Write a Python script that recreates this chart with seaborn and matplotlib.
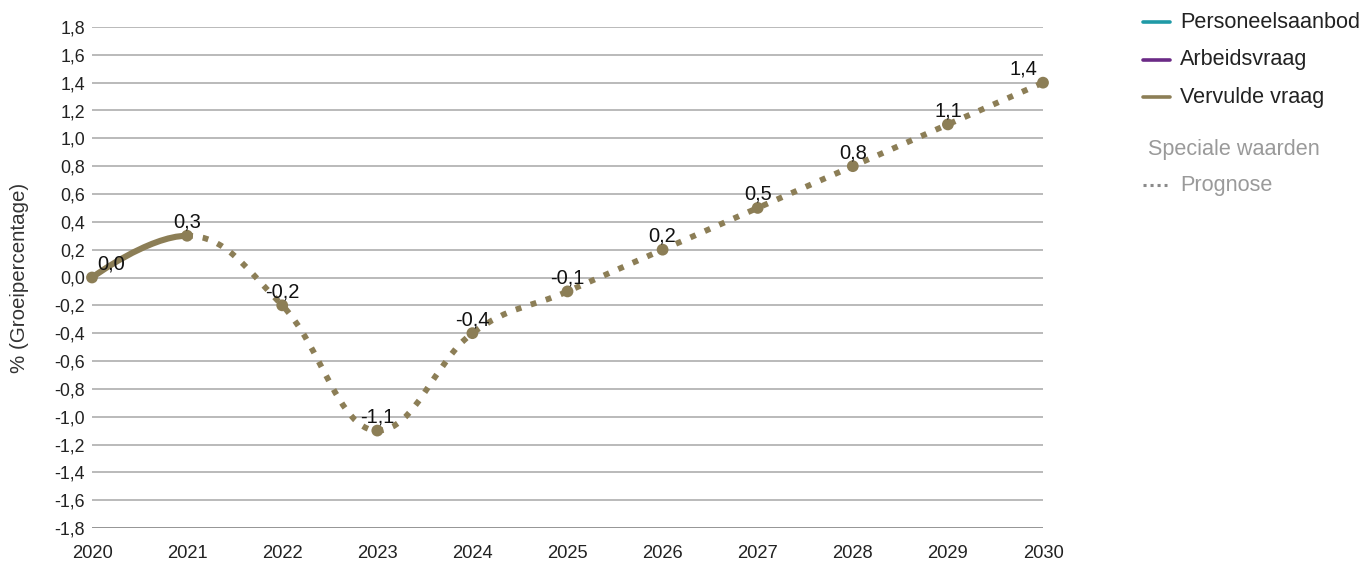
import numpy as np
import pandas as pd
import seaborn as sns
import matplotlib.pyplot as plt
from matplotlib.path import Path
from matplotlib.patches import PathPatch
from matplotlib.lines import Line2D

# data
years = [2020, 2021, 2022, 2023, 2024, 2025, 2026, 2027, 2028, 2029, 2030]
vervulde_vraag = [0.0, 0.3, -0.2, -1.1, -0.4, -0.1, 0.2, 0.5, 0.8, 1.1, 1.4]
last_actual_year = 2021
y_ticks = [-1.8, -1.6, -1.4, -1.2, -1.0, -0.8, -0.6, -0.4, -0.2, 0.0,
           0.2, 0.4, 0.6, 0.8, 1.0, 1.2, 1.4, 1.6, 1.8]
series_names = ["Personeelsaanbod", "Arbeidsvraag", "Vervulde vraag"]
series_colors = ["#1f9aa6", "#6b2a86", "#8c7e56"]

OLIVE = "#8c7e56"
W, H = 1366, 565

sns.set_theme(style="white")
plt.rcParams["font.family"] = ["Liberation Sans", "DejaVu Sans"]


def spline_controls(xs, ys, smoothing=1.5):
    r"""Bezier control points for a smooth spline through the points."""
    n = len(xs)
    left = [(xs[0], ys[0])] * n
    right = [(xs[-1], ys[-1])] * n
    right[0] = (xs[0], ys[0])
    for i in range(1, n - 1):
        px, py = xs[i], ys[i]
        lx, ly = xs[i - 1], ys[i - 1]
        nx, ny = xs[i + 1], ys[i + 1]
        d = smoothing + 1
        lcx, lcy = (smoothing * px + lx) / d, (smoothing * py + ly) / d
        rcx, rcy = (smoothing * px + nx) / d, (smoothing * py + ny) / d
        if rcx != lcx:
            corr = ((rcy - lcy) * (rcx - px)) / (rcx - lcx) + py - rcy
            lcy += corr
            rcy += corr
        if lcy > ly and lcy > py:
            lcy = max(ly, py)
            rcy = 2 * py - lcy
        elif lcy < ly and lcy < py:
            lcy = min(ly, py)
            rcy = 2 * py - lcy
        if rcy > ny and rcy > py:
            rcy = max(ny, py)
            lcy = 2 * py - rcy
        elif rcy < ny and rcy < py:
            rcy = min(ny, py)
            lcy = 2 * py - rcy
        left[i] = (lcx, lcy)
        right[i] = (rcx, rcy)
    left[-1] = (xs[-1], ys[-1])
    return left, right


def curve_path(xs, ys, left, right, i0, i1):
    verts = [(xs[i0], ys[i0])]
    codes = [Path.MOVETO]
    for i in range(i0 + 1, i1 + 1):
        verts += [right[i - 1], left[i], (xs[i], ys[i])]
        codes += [Path.CURVE4] * 3
    return Path(verts, codes)


df = pd.DataFrame({"jaar": years, "waarde": vervulde_vraag})

fig = plt.figure(figsize=(W / 100, H / 100), dpi=100)
ax = fig.add_axes([92 / W, 37 / H, (1043 - 92) / W, (528 - 27) / H])

sns.scatterplot(data=df, x="jaar", y="waarde", ax=ax, color=OLIVE, s=72,
                edgecolor="none", zorder=4, clip_on=False, legend=False)

ax.set_xlim(years[0], years[-1])
ax.set_ylim(y_ticks[0], y_ticks[-1])
ax.set_yticks(y_ticks)
ax.set_yticklabels([f"{v:.1f}".replace(".", ",") for v in y_ticks])
ax.set_xticks(years)
ax.set_xticklabels([str(y) for y in years])
for v in y_ticks:
    ax.axhline(v, color="#b4b4b4" if v != y_ticks[0] else "#8c8c8c", lw=1.3, zorder=0)
for s in ax.spines.values():
    s.set_visible(False)
ax.tick_params(axis="both", length=0, labelsize=12.8, colors="#222222")
ax.tick_params(axis="y", pad=5)
ax.tick_params(axis="x", pad=12.5, labelsize=13.2)
ax.set_xlabel("")
ax.set_ylabel("% (Groeipercentage)", fontsize=14.8, color="#333333")
ax.yaxis.set_label_coords((29 - 92) / (1043 - 92), 0.5)

left, right = spline_controls(years, vervulde_vraag)
split = years.index(last_actual_year)
solid = PathPatch(curve_path(years, vervulde_vraag, left, right, 0, split),
                  fill=False, edgecolor=OLIVE, lw=4.4, capstyle="round", zorder=3, clip_on=False)
dotted = PathPatch(curve_path(years, vervulde_vraag, left, right, split, len(years) - 1),
                   fill=False, edgecolor=OLIVE, lw=4.2, linestyle=(0, (1.0, 1.7)),
                   zorder=3, clip_on=False)
ax.add_patch(solid)
ax.add_patch(dotted)

for i, (x, y) in enumerate(zip(years, vervulde_vraag)):
    lbl = f"{y:.1f}".replace(".", ",")
    if i == 0:
        ha, dx = "left", 5
    elif i == len(years) - 1:
        ha, dx = "right", -6
    else:
        ha, dx = "center", 0
    ax.annotate(lbl, (x, y), xytext=(dx, 8), textcoords="offset pixels",
                ha=ha, va="baseline", fontsize=14.5, color="#111111", zorder=5)

# legend on the right
lx0, lx1, tx = 1143, 1170, 1180
for k, (name, col) in enumerate(zip(series_names, series_colors)):
    yy = 1 - (22 + 37.5 * k) / H
    fig.add_artist(Line2D([lx0 / W, lx1 / W], [yy, yy], color=col, lw=2.6))
    fig.text(tx / W, yy, name, fontsize=15.6, color="#222222", va="center", ha="left")
fig.text(1148 / W, 1 - 150 / H, "Speciale waarden", fontsize=15.6, color="#9a9a9a",
         va="center", ha="left")
yy = 1 - 185 / H
fig.add_artist(Line2D([1143 / W, 1167 / W], [yy, yy], color="#8a8a8a", lw=2.2,
                      linestyle=(0, (1, 1.3))))
fig.text(tx / W, yy, "Prognose", fontsize=15.6, color="#9a9a9a", va="center", ha="left")

fig.savefig("out.png", dpi=100)
